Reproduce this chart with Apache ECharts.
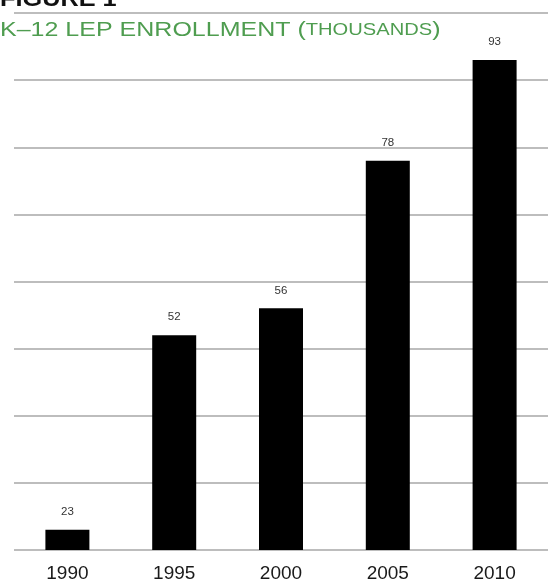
<!DOCTYPE html>
<html>
<head>
<meta charset="utf-8">
<script src="https://cdn.jsdelivr.net/npm/echarts@6/dist/echarts.min.js"></script>
<style>
  html, body { margin: 0; padding: 0; background: #fff; }
  #chart { width: 548px; height: 583px; }
</style>
</head>
<body>
<div id="chart"></div>
<script>
// data
var years = ['1990', '1995', '2000', '2005', '2010'];
var enrollment = [23, 52, 56, 78, 93];
var yTicks = { min: 20, max: 100, step: 10 };

var chart = echarts.init(document.getElementById('chart'));

var option = {
    backgroundColor: '#fff',
    animation: false,
    graphic: [
        {
            type: 'text',
            left: 0,
            top: -11,
            scaleX: 1.15,
            style: {
                text: 'FIGURE 1',
                font: 'bold 22px "Liberation Sans", Arial, sans-serif',
                fill: '#111'
            }
        },
        {
            type: 'text',
            x: 0,
            y: 30,
            scaleX: 1.22,
            style: {
                text: '{a|K\u201312 LEP ENROLLMENT (}{b|THOUSANDS}{a|)}',
                verticalAlign: 'middle',
                rich: {
                    a: { fontSize: 20.5, fontFamily: '"Liberation Sans", Arial, sans-serif', fill: '#4f9d50', color: '#4f9d50' },
                    b: { fontSize: 16.5, fontFamily: '"Liberation Sans", Arial, sans-serif', fill: '#4f9d50', color: '#4f9d50' }
                }
            }
        }
    ],
    grid: {
        left: 14,
        right: -3,
        top: 13,
        bottom: 33
    },
    xAxis: {
        type: 'category',
        data: years,
        axisLine: { show: false },
        axisTick: { show: false },
        axisLabel: {
            margin: 14,
            fontSize: 19,
            fontFamily: '"Liberation Sans", Arial, sans-serif',
            color: '#1a1a1a'
        }
    },
    yAxis: {
        type: 'value',
        min: yTicks.min,
        max: yTicks.max,
        interval: yTicks.step,
        axisLine: { show: false },
        axisTick: { show: false },
        axisLabel: { show: false },
        splitLine: {
            lineStyle: { color: '#bdbdbd', width: 2 }
        }
    },
    series: [
        {
            type: 'bar',
            data: enrollment,
            barWidth: 44,
            itemStyle: { color: '#000' },
            label: {
                show: true,
                position: 'top',
                distance: 12,
                fontSize: 11.5,
                fontFamily: '"Liberation Sans", Arial, sans-serif',
                color: '#333'
            }
        }
    ]
};

chart.setOption(option);
</script>
</body>
</html>
